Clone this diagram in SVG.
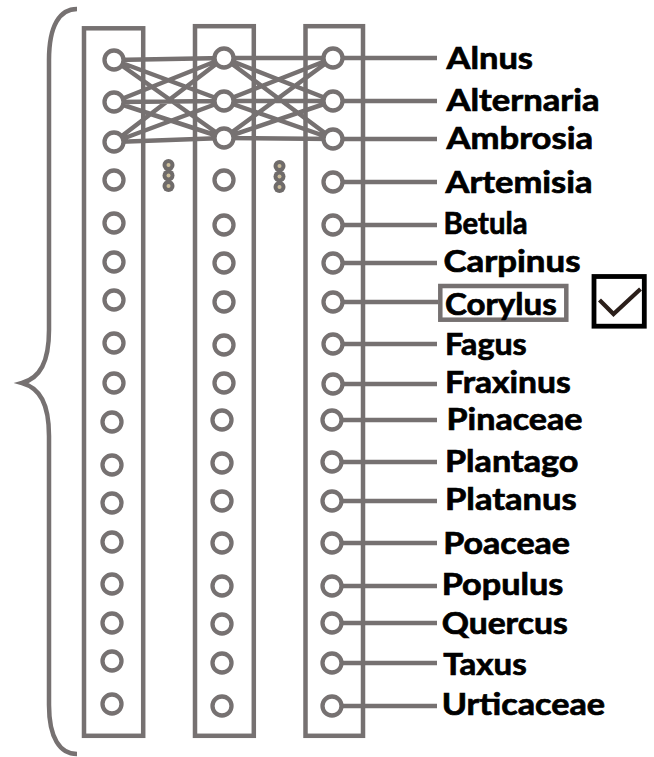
<svg xmlns="http://www.w3.org/2000/svg" width="654" height="757" viewBox="0 0 654 757">
<style>
.g{fill:none;stroke:#767171;stroke-width:4.5}
.c{fill:#fff;stroke:#767171;stroke-width:4.3}
.ln{stroke:#767171;stroke-width:4.5;fill:none}
.t{font-family:Lato,"Liberation Sans",sans-serif;font-weight:bold;font-size:30px;fill:#000;stroke:#000;stroke-width:0.7}
.d{fill:#6f6b6a}
.dc{fill:#cdbf9c}
</style>
<defs>
<circle id="n" r="9.5" class="c"/>
<g id="dots"><circle cy="-10.5" r="6" class="d"/><circle r="6" class="d"/><circle cy="10.5" r="6" class="d"/><circle cy="-10.5" r="2" class="dc"/><circle r="2" class="dc"/><circle cy="10.5" r="2" class="dc"/></g>
</defs>
<rect width="654" height="757" fill="#fff"/>
<g id="brace"><path class="g" d="M77,9 C60,9 49,25 49,60 L49,330 C49,362 40,378 22,383 C40,388 49,404 49,436 L49,705 C49,738 60,754 77,754"/></g>
<g id="layers">
<rect id="layer1" class="g" x="84" y="28.3" width="59.2" height="707.5"/>
<rect id="layer2" class="g" x="195" y="26.2" width="58.8" height="709.6"/>
<rect id="layer3" class="g" x="305.5" y="26.2" width="57.5" height="709.6"/>
</g>
<g id="connectors" class="ln">
<path d="M114,60L224,58M114,60L224,101M114,60L224,138M114,102L224,58M114,102L224,101M114,102L224,138M114,142L224,58M114,142L224,101M114,142L224,138"/>
<path d="M224,58L333,58M224,58L333,101M224,58L333,139M224,101L333,58M224,101L333,101M224,101L333,139M224,138L333,58M224,138L333,101M224,138L333,139"/>
<path d="M333,58H437M333,101H437M333,139H437M333,182H437M333,225H437M333,263H437M333,302H438M333,344H437M333,384H437M332,420H437M332,462H437M332,501H437M332,543H437M332,586H437M332,623H437M332,663H437M332,706H437"/>
</g>
<g id="col1">
<use href="#n" x="114" y="60"/><use href="#n" x="114" y="102"/><use href="#n" x="114" y="142"/><use href="#n" x="114" y="180"/><use href="#n" x="114" y="223"/><use href="#n" x="114" y="262"/><use href="#n" x="114" y="300"/><use href="#n" x="114" y="343"/><use href="#n" x="114" y="383"/><use href="#n" x="112" y="422"/><use href="#n" x="112" y="465"/><use href="#n" x="112" y="503"/><use href="#n" x="112" y="542"/><use href="#n" x="112" y="584"/><use href="#n" x="112" y="623"/><use href="#n" x="112" y="661"/><use href="#n" x="112" y="704"/>
</g>
<g id="col2">
<use href="#n" x="224" y="58"/><use href="#n" x="224" y="101"/><use href="#n" x="224" y="138"/><use href="#n" x="224" y="180"/><use href="#n" x="224" y="225"/><use href="#n" x="224" y="263"/><use href="#n" x="224" y="302"/><use href="#n" x="224" y="345"/><use href="#n" x="224" y="383"/><use href="#n" x="222" y="420"/><use href="#n" x="222" y="463"/><use href="#n" x="222" y="501"/><use href="#n" x="222" y="543"/><use href="#n" x="222" y="586"/><use href="#n" x="222" y="624"/><use href="#n" x="222" y="663"/><use href="#n" x="222" y="706"/>
</g>
<g id="col3">
<use href="#n" x="333" y="58"/><use href="#n" x="333" y="101"/><use href="#n" x="333" y="139"/><use href="#n" x="333" y="182"/><use href="#n" x="333" y="225"/><use href="#n" x="333" y="263"/><use href="#n" x="333" y="302"/><use href="#n" x="333" y="344"/><use href="#n" x="333" y="384"/><use href="#n" x="332" y="420"/><use href="#n" x="332" y="462"/><use href="#n" x="332" y="501"/><use href="#n" x="332" y="543"/><use href="#n" x="332" y="586"/><use href="#n" x="332" y="623"/><use href="#n" x="332" y="663"/><use href="#n" x="332" y="706"/>
</g>
<g id="ellipsis1"><use href="#dots" x="168.5" y="175.5"/></g>
<g id="ellipsis2"><use href="#dots" x="279.5" y="176.5"/></g>
<g id="labels">
<g id="l-alnus"><text class="t" x="446.5" y="68.5" textLength="86.5" lengthAdjust="spacingAndGlyphs">Alnus</text></g>
<g id="l-alternaria"><text class="t" x="446.5" y="110.5" textLength="153" lengthAdjust="spacingAndGlyphs">Alternaria</text></g>
<g id="l-ambrosia"><text class="t" x="446.5" y="148.5" textLength="146.5" lengthAdjust="spacingAndGlyphs">Ambrosia</text></g>
<g id="l-artemisia"><text class="t" x="445.5" y="193" textLength="147" lengthAdjust="spacingAndGlyphs">Artemisia</text></g>
<g id="l-betula"><text class="t" x="443.5" y="234" textLength="84" lengthAdjust="spacingAndGlyphs">Betula</text></g>
<g id="l-carpinus"><text class="t" x="443.5" y="272" textLength="137" lengthAdjust="spacingAndGlyphs">Carpinus</text></g>
<g id="l-corylus"><rect x="440.3" y="286" width="126" height="33.7" class="g" stroke-width="4"/><text class="t" x="445" y="314.5" textLength="111.7" lengthAdjust="spacingAndGlyphs">Corylus</text></g>
<g id="l-fagus"><text class="t" x="445" y="354.5" textLength="81.7" lengthAdjust="spacingAndGlyphs">Fagus</text></g>
<g id="l-fraxinus"><text class="t" x="445" y="392.7" textLength="125.7" lengthAdjust="spacingAndGlyphs">Fraxinus</text></g>
<g id="l-pinaceae"><text class="t" x="446.5" y="430" textLength="136" lengthAdjust="spacingAndGlyphs">Pinaceae</text></g>
<g id="l-plantago"><text class="t" x="445" y="471.7" textLength="133.3" lengthAdjust="spacingAndGlyphs">Plantago</text></g>
<g id="l-platanus"><text class="t" x="445" y="510" textLength="131.7" lengthAdjust="spacingAndGlyphs">Platanus</text></g>
<g id="l-poaceae"><text class="t" x="443.3" y="554" textLength="126.7" lengthAdjust="spacingAndGlyphs">Poaceae</text></g>
<g id="l-populus"><text class="t" x="441.7" y="595" textLength="121.6" lengthAdjust="spacingAndGlyphs">Populus</text></g>
<g id="l-quercus"><text class="t" x="441.7" y="633.5" textLength="126" lengthAdjust="spacingAndGlyphs">Quercus</text></g>
<g id="l-taxus"><text class="t" x="443.3" y="674.5" textLength="83.4" lengthAdjust="spacingAndGlyphs">Taxus</text></g>
<g id="l-urticaceae"><text class="t" x="441.7" y="715" textLength="163.3" lengthAdjust="spacingAndGlyphs">Urticaceae</text></g>
</g>
<g id="checkbox">
<rect x="594" y="276.5" width="50.3" height="49.7" fill="none" stroke="#000" stroke-width="4.8"/>
<path d="M599.5,300 L613.5,314 L640.5,289" fill="none" stroke="#2b1f1a" stroke-width="4.2"/>
</g>
</svg>
